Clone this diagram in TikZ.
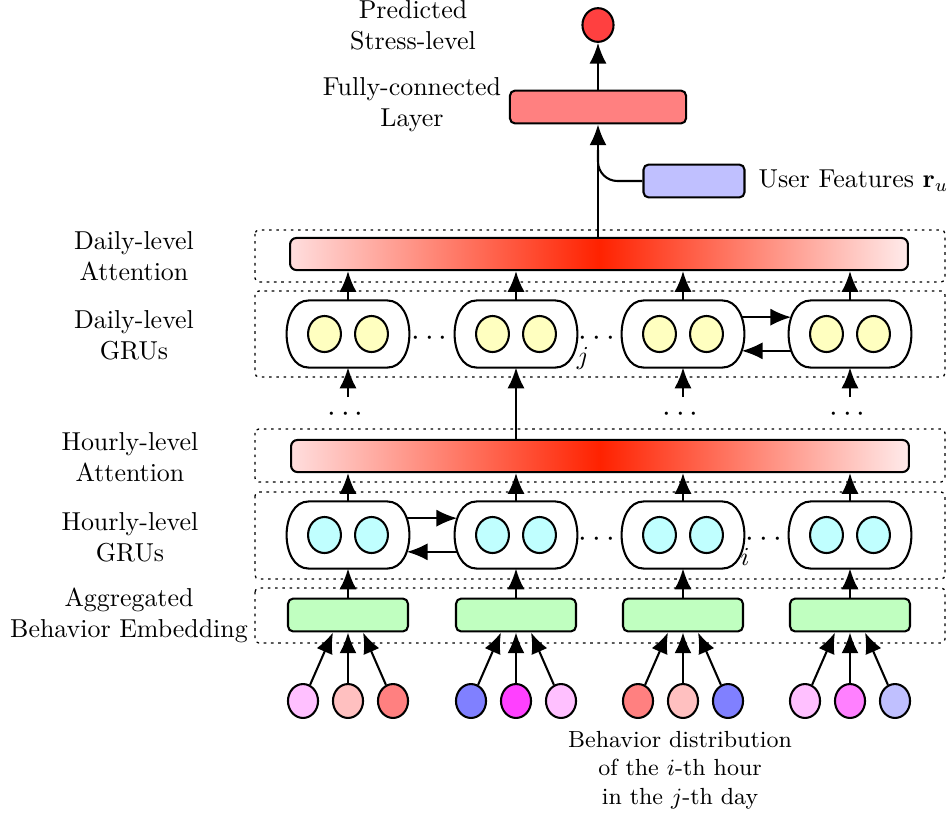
\documentclass[tikz,border=0pt]{standalone}
\usepackage{amsmath, amssymb}
\usepackage{tikz}
\usetikzlibrary{arrows.meta, shapes.geometric, calc, positioning}

\definecolor{gruday}{HTML}{FFFFC0}
\definecolor{gruhour}{HTML}{C0FFFF}
\definecolor{embgreen}{HTML}{C0FFC0}
\definecolor{fcred}{HTML}{FF8080}
\definecolor{userblue}{HTML}{C0C0FF}
\definecolor{outred}{HTML}{FF4040}
\definecolor{attred}{HTML}{FF2200}
\definecolor{bhA}{HTML}{FFC0FF}
\definecolor{bhB}{HTML}{FFC0C0}
\definecolor{bhC}{HTML}{FF8080}
\definecolor{bhD}{HTML}{8080FF}
\definecolor{bhE}{HTML}{FF40FF}
\definecolor{bhF}{HTML}{FF80FF}
\definecolor{bhG}{HTML}{C0C0FF}

\begin{document}
\begin{tikzpicture}[x=0.386pt, y=-0.386pt, line join=round,
		arr/.style={thick, -{Latex[length=8pt, width=6.6pt]}},
		frame/.style={black, line width=0.5pt, dash pattern=on 1pt off 1.8pt, rounded corners=1.5pt},
		cell/.style={minimum width=47pt, minimum height=25.5pt, inner sep=0pt},
		cellline/.style={thick, fill=white},
		unit/.style={draw, thick, ellipse, minimum width=12.7pt, minimum height=13.9pt, inner sep=0pt},
		bhv/.style={draw, thick, ellipse, minimum width=11.6pt, minimum height=13.1pt, inner sep=0pt},
		box/.style={draw, thick, rounded corners=2pt, minimum height=12.7pt, inner sep=0pt},
		bar/.style={box, minimum width=238.5pt, minimum height=12.4pt, rounded corners=2.5pt,
			left color=red!13, right color=red!8, middle color=attred},
		gap/.style={font=\large, inner sep=0pt, yshift=-1.6pt},
		lbl/.style={align=center}]
	
	% Layout grid in pixels
	\useasboundingbox (0,0) rectangle (947,813);
	\def\dx{23.5}  % offset of the two units inside a cell
	\def\bx{45}    % spacing of the behavior inputs
	\def\ci{8.5pt} % inset of the straight edges of a cell
	\def\cb{2.83pt}% bulge of the cell sides
	
	% --- dotted layer frames ---
	\foreach \top/\bot in {230/282, 291/377, 429/482, 492/579, 588/643}
		\draw[frame] (255,\top) rectangle (945,\bot);
	
	% --- layer names ---
	\node[lbl] (ldatt) at (134,256) {Daily-level\\Attention};
	\node[lbl] (ldgru) at (134,335) {Daily-level\\GRUs};
	\node[lbl] (lhatt) at (130,457) {Hourly-level\\Attention};
	\node[lbl] (lhgru) at (130,537) {Hourly-level\\GRUs};
	\node[lbl] (lemb) at (129,615) {Aggregated\\Behavior Embedding};
	
	% --- attention bars ---
	\node[bar] (datt) at (599,254) {};
	\node[bar] (hatt) at (600,456) {};
	
	% --- columns: embeddings, hourly and daily GRUs ---
	\foreach \i/\x in {1/348, 2/516, 3/683, 4/850}{
		\node[box, fill=embgreen, minimum width=46.3pt] (e\i) at (\x,615) {};
		\foreach \r/\y/\c in {h/535/gruhour, d/334/gruday}{
			\node[cell] (\r\i) at (\x,\y) {};
			\draw[cellline] ([xshift=\ci]\r\i.north west) -- ([xshift=-\ci]\r\i.north east)
				.. controls ([xshift=\cb]\r\i.north east) and ([xshift=\cb]\r\i.south east) .. ([xshift=-\ci]\r\i.south east)
				-- ([xshift=\ci]\r\i.south west)
				.. controls ([xshift=-\cb]\r\i.south west) and ([xshift=-\cb]\r\i.north west) .. cycle;
			\node[unit, fill=\c] (\r l\i) at (\x-\dx,\y) {};
			\node[unit, fill=\c] (\r r\i) at (\x+\dx,\y) {};
		}
		\draw[arr] (e\i) -- (h\i);
		\draw[arr] (h\i.north) -- (h\i.north |- hatt.south);
		\draw[arr] (d\i.north) -- (d\i.north |- datt.south);
	}
	
	% --- behavior distributions ---
	\foreach \i/\x/\ca/\cb/\cc in {1/348/bhA/bhB/bhC, 2/516/bhD/bhE/bhA,
		3/683/bhC/bhB/bhD, 4/850/bhA/bhF/bhG}{
		\node[bhv, fill=\ca] (b\i1) at (\x-\bx,701) {};
		\node[bhv, fill=\cb] (b\i2) at (\x,701) {};
		\node[bhv, fill=\cc] (b\i3) at (\x+\bx,701) {};
		\draw[arr] (b\i1) -- ([xshift=-5.8pt]e\i.south);
		\draw[arr] (b\i2) -- (e\i);
		\draw[arr] (b\i3) -- ([xshift=5.8pt]e\i.south);
	}
	\node[lbl, font=\small] (bdist) at (680,770) {Behavior distribution\\of the $i$-th hour\\in the $j$-th day};
	
	% --- recurrent links and gaps ---
	\draw[arr] ([shift={(-1pt,6.5pt)}]h1.east) -- ([shift={(1pt,6.5pt)}]h2.west);
	\draw[arr] ([shift={(1pt,-6.5pt)}]h2.west) -- ([shift={(-1pt,-6.5pt)}]h1.east);
	\draw[arr] ([shift={(-1pt,6.5pt)}]d3.east) -- ([shift={(1pt,6.5pt)}]d4.west);
	\draw[arr] ([shift={(1pt,-6.5pt)}]d4.west) -- ([shift={(-1pt,-6.5pt)}]d3.east);
	\node[gap] (hdots23) at ($(h2.east)!0.5!(h3.west)$) {$\cdots$};
	\node[gap] (hdots34) at ($(h3.east)!0.5!(h4.west)$) {$\cdots$};
	\node[gap] (ddots12) at ($(d1.east)!0.5!(d2.west)$) {$\cdots$};
	\node[gap] (ddots23) at ($(d2.east)!0.5!(d3.west)$) {$\cdots$};
	\node (ilbl) at (745,557) {$i$};
	\node (jlbl) at (583,358) {$j$};
	
	% --- hourly to daily ---
	\draw[arr] (hatt.north -| d2.south) -- (d2.south);
	\foreach \i/\x in {1/348, 3/683, 4/850}{
		\coordinate (feed\i) at (\x,397);
		\draw[arr] (feed\i) -- (d\i.south);
		\node[gap] (fdots\i) at (\x,410) {$\cdots$};
	}
	
	% --- output part ---
	\node[box, fill=fcred, minimum width=68pt] (fc) at (598,107) {};
	\node[draw, thick, ellipse, fill=outred, minimum width=12pt, minimum height=13pt, inner sep=0pt] (out) at (598,25) {};
	\node[box, fill=userblue, minimum width=39pt] (user) at (694,181) {};
	\node[right=1.5pt of user] (ulbl) {User Features $\mathbf{r}_u$};
	\node[lbl] (lfc) at (412,105) {Fully-connected\\Layer};
	\node[lbl] (lout) at (413,25) {Predicted\\Stress-level};
	\coordinate (join) at (598,150);
	\draw[arr] (datt.north -| fc.south) -- (fc.south);
	\draw[thick, rounded corners=7.5pt] (user.west) -| (join);
	\draw[arr] (fc.north) -- (out);
	
\end{tikzpicture}
\end{document}
